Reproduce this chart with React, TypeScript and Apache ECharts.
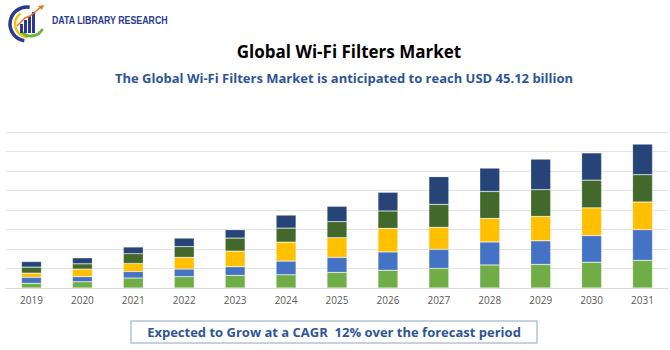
import React, { useEffect, useRef } from "react";
import * as echarts from "echarts";

const years = ["2019","2020","2021","2022","2023","2024","2025","2026","2027","2028","2029","2030","2031"];
const seriesA = [0.24,0.32,0.51,0.58,0.65,0.68,0.80,0.91,1.01,1.18,1.21,1.32,1.42];
const seriesB = [0.31,0.26,0.34,0.39,0.44,0.70,0.77,0.94,0.97,1.18,1.21,1.37,1.57];
const seriesC = [0.21,0.39,0.41,0.60,0.80,0.97,1.01,1.21,1.13,1.21,1.25,1.42,1.42];
const seriesD = [0.31,0.27,0.50,0.55,0.67,0.72,0.82,0.89,1.18,1.38,1.37,1.42,1.40];
const seriesE = [0.29,0.31,0.34,0.44,0.43,0.67,0.79,0.96,1.42,1.20,1.57,1.40,1.57];
const seriesNames = ["Segment A","Segment B","Segment C","Segment D","Segment E"];
const colors = ["#70AD47","#4472C4","#FFC000","#43682B","#264478"];

const title = "Global Wi-Fi Filters Market";
const subtitle = "The Global Wi-Fi Filters Market is anticipated to reach USD 45.12 billion";
const footer = "Expected to Grow at a CAGR  12% over the forecast period";
const brand = "DATA LIBRARY RESEARCH";

export default function App() {
  const ref = useRef<HTMLDivElement>(null);
  useEffect(() => {
    document.body.style.margin = "0";
    const chart = echarts.init(ref.current!, null, { renderer: "svg" });
    const data = [seriesA, seriesB, seriesC, seriesD, seriesE];
    chart.setOption({
      animation: false,
      backgroundColor: "#ffffff",
      grid: { left: 6, right: 2, top: 132, bottom: 62, containLabel: false },
      xAxis: {
        type: "category",
        data: years,
        axisLine: { show: true, lineStyle: { color: "#d9d9d9", width: 1 } },
        axisTick: { show: false },
        axisLabel: { color: "#595959", fontSize: 10, fontFamily: "Open Sans", margin: 7 },
      },
      yAxis: {
        type: "value",
        min: 0,
        max: 8,
        interval: 1,
        axisLabel: { show: false },
        axisLine: { show: false },
        axisTick: { show: false },
        splitLine: { lineStyle: { color: "#e4e4e4", width: 1 } },
      },
      series: data.map((d, i) => ({
        name: seriesNames[i],
        type: "bar",
        stack: "total",
        data: d,
        barWidth: 20,
        itemStyle: { color: colors[i], borderColor: "rgba(255,255,255,0.35)", borderWidth: 0.6 },
      })),
      graphic: [
        // logo
        { type: "arc", shape: { cx: 27, cy: 24, r: 17, startAngle: Math.PI * 0.55, endAngle: Math.PI * 1.55 }, style: { stroke: "#2B3990", lineWidth: 3.5, fill: "none" } },
        { type: "arc", shape: { cx: 28, cy: 24, r: 13, startAngle: Math.PI * 0.5, endAngle: Math.PI * 1.3 }, style: { stroke: "#F2C500", lineWidth: 2.5, fill: "none" } },
        { type: "arc", shape: { cx: 31, cy: 23, r: 13, startAngle: Math.PI * 0.15, endAngle: Math.PI * 0.75 }, style: { stroke: "#6DB33F", lineWidth: 3, fill: "none" } },
        { type: "rect", shape: { x: 20, y: 24, width: 3, height: 9 }, style: { fill: "#2B3990" } },
        { type: "rect", shape: { x: 24, y: 20, width: 3, height: 13 }, style: { fill: "#2B3990" } },
        { type: "rect", shape: { x: 28, y: 16, width: 3, height: 17 }, style: { fill: "#2B3990" } },
        { type: "rect", shape: { x: 32, y: 12, width: 3, height: 21 }, style: { fill: "#2B3990" } },
        { type: "polyline", shape: { points: [[17, 26], [25, 18], [30, 16], [41, 7]] }, style: { stroke: "#E87722", lineWidth: 1.5, fill: "none" } },
        { type: "polygon", shape: { points: [[38, 6], [44, 5], [42, 10]] }, style: { fill: "#E87722" } },
        { type: "text", x: 52, y: 20, scaleX: 0.8, style: { text: brand, fill: "#2B3990", font: "bold 11px 'Liberation Sans', sans-serif", textVerticalAlign: "middle" } },
        // titles
        { type: "text", x: 349, y: 51, style: { text: title, fill: "#000000", font: "bold 17px 'Open Sans', sans-serif", textAlign: "center", textVerticalAlign: "middle" } },
        { type: "text", x: 344, y: 78, style: { text: subtitle, fill: "#2E5597", font: "bold 13px 'Open Sans', sans-serif", textAlign: "center", textVerticalAlign: "middle" } },
        // footer box
        { type: "rect", shape: { x: 131, y: 321, width: 406, height: 22 }, style: { fill: "#ffffff", stroke: "#8EA4BF", lineWidth: 1 } },
        { type: "text", x: 334, y: 332, style: { text: footer, fill: "#2E5597", font: "bold 13px 'Open Sans', sans-serif", textAlign: "center", textVerticalAlign: "middle" } },
      ],
    });
    return () => chart.dispose();
  }, []);
  return <div ref={ref} style={{ width: 670, height: 350 }} />;
}
